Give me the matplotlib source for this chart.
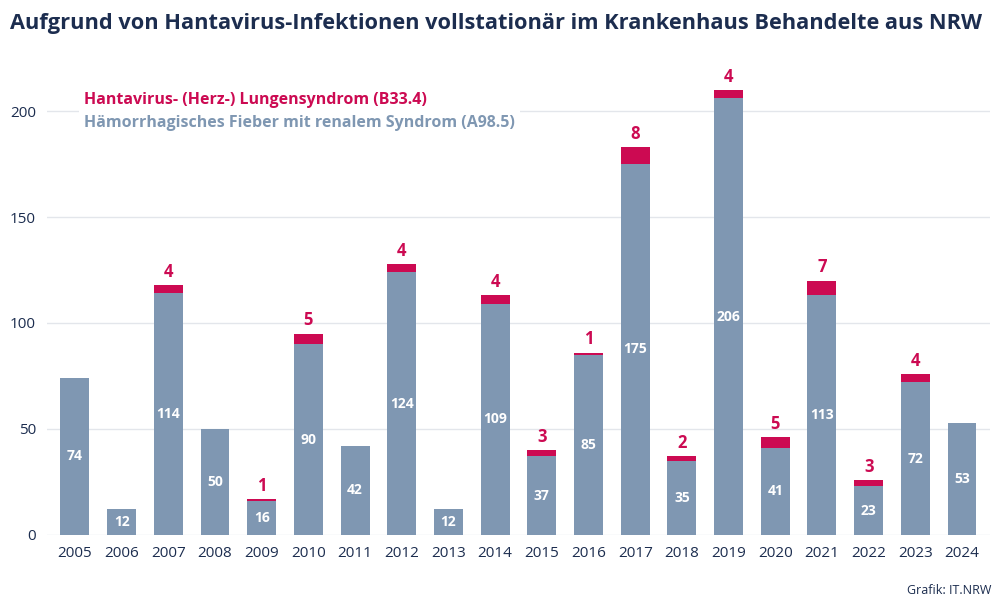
import matplotlib.pyplot as plt
from matplotlib.patches import Patch

plt.rcParams['font.family'] = ['Open Sans', 'DejaVu Sans']

# Jahre und Fallzahlen
years = [str(y) for y in range(2005, 2025)]
a98 = [74, 12, 114, 50, 16, 90, 42, 124, 12, 109, 37, 85, 175, 35, 206, 41, 113, 23, 72, 53]
b33 = [0, 0, 4, 0, 1, 5, 0, 4, 0, 4, 3, 1, 8, 2, 4, 5, 7, 3, 4, 0]

grey = '#7f97b2'
pink = '#cc0a52'
navy = '#1c2d4f'

fig = plt.figure(figsize=(9.99, 6.12), dpi=100)
ax = fig.add_axes([0.047, 0.126, 0.944, 0.779])

x = list(range(len(years)))
ax.bar(x, a98, width=0.62, color=grey, zorder=2)
ax.bar(x, b33, width=0.62, bottom=a98, color=pink, zorder=2)

# Beschriftungen
for i in x:
    ax.text(i, a98[i] / 2, str(a98[i]), ha='center', va='center',
            color='white', fontsize=10, fontweight='bold', zorder=3)
    if b33[i] > 0:
        ax.annotate(str(b33[i]), (i, a98[i] + b33[i]), xytext=(0, 3),
                    textcoords='offset points', ha='center', va='bottom',
                    color=pink, fontsize=12, fontweight='bold')

ax.set_xlim(-0.6, 19.6)
ax.set_ylim(0, 225)
ax.set_xticks(x)
ax.set_xticklabels(years)
ax.set_yticks([0, 50, 100, 150, 200])
ax.tick_params(length=0, colors=navy, labelsize=11)
ax.tick_params(axis='x', pad=8)
ax.tick_params(axis='y', pad=8)
ax.yaxis.grid(True, color='#e3e6eb', linewidth=1, zorder=0)
for s in ax.spines.values():
    s.set_visible(False)

handles = [Patch(visible=False), Patch(visible=False)]
leg = ax.legend(handles, ['Hantavirus- (Herz-) Lungensyndrom (B33.4)',
                          'Hämorrhagisches Fieber mit renalem Syndrom (A98.5)'],
                loc='upper left', bbox_to_anchor=(0.026, 0.955),
                handlelength=0, handletextpad=0, labelcolor=[pink, grey],
                frameon=True, facecolor='white', edgecolor='none', framealpha=1,
                borderpad=0.3, labelspacing=0.4,
                prop={'size': 11.5, 'weight': 'bold'})

fig.text(0.01, 0.962, 'Aufgrund von Hantavirus-Infektionen vollstationär im Krankenhaus Behandelte aus NRW',
         fontsize=15.7, fontweight='bold', color=navy, va='center')
fig.text(0.992, 0.035, 'Grafik: IT.NRW', fontsize=9, color=navy, ha='right', va='center')

fig.savefig('out.png', dpi=100)
